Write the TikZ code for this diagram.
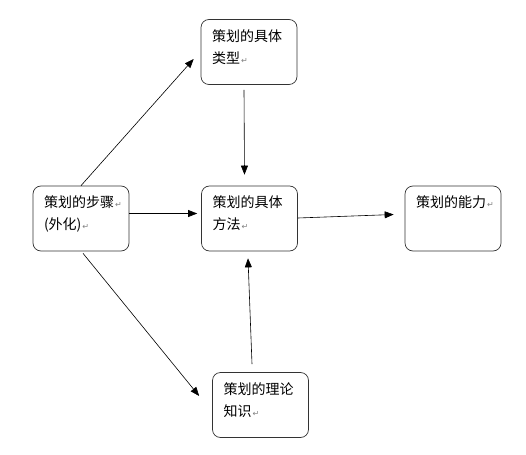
\documentclass[tikz,border=0pt]{standalone}
\usepackage{fontspec}
\setmainfont{Noto Sans CJK SC}
\newfontfamily\retfont{DejaVu Sans}
\usetikzlibrary{arrows.meta}
% return mark after a paragraph
\newcommand{\retmark}{\rlap{\kern1pt\textcolor{gray}{\retfont\fontsize{8}{8}\selectfont ↵}}}
\newcommand{\boxtext}[1]{\parbox[c][45pt][t]{74pt}{\raggedright\fontsize{14}{22}\selectfont #1}}
\begin{document}
\begin{tikzpicture}[x=1pt, y=-1pt,
    box/.style={draw=black!80, line width=0.7pt, rounded corners=8pt, inner sep=0pt,
                minimum width=96pt, minimum height=65pt},
    arr/.style={-{Triangle[length=9pt,width=7pt]}, line width=0.6pt, black}]
    \useasboundingbox (0,0) rectangle (526,454);

    % Boxes
    \node[box] (type)    at (249,52)      {\boxtext{策划的具体\\类型\retmark}};
    \node[box] (step)    at (81,218.5)    {\boxtext{策划的步骤\retmark\\(外化)\retmark}};
    \node[box] (method)  at (249.5,218.5) {\boxtext{策划的具体\\方法\retmark}};
    \node[box] (ability) at (453,218.5)   {\boxtext{策划的能力\retmark}};
    \node[box] (theory)  at (260.5,405)   {\boxtext{策划的理论\\知识\retmark}};

    % Arrows from the steps
    \draw[arr] (step.north) -- ([xshift=-7pt,yshift=-7pt]type.west);
    \draw[arr] ([yshift=5pt]step.east) -- ([xshift=-4pt,yshift=5pt]method.west);
    \draw[arr] ([xshift=2pt,yshift=-2pt]step.south) -- ([xshift=-13pt,yshift=9pt]theory.west);

    % Arrows into and out of the method
    \draw[arr] ([xshift=-5pt,yshift=-5pt]type.south) -- ([xshift=-5pt,yshift=11pt]method.north);
    \draw[arr] ([xshift=-8.5pt,yshift=8pt]theory.north) -- ([xshift=-1.5pt,yshift=-7pt]method.south);
    \draw[arr] ([yshift=0.5pt]method.east) -- ([xshift=-11pt,yshift=4pt]ability.west);
\end{tikzpicture}
\end{document}
